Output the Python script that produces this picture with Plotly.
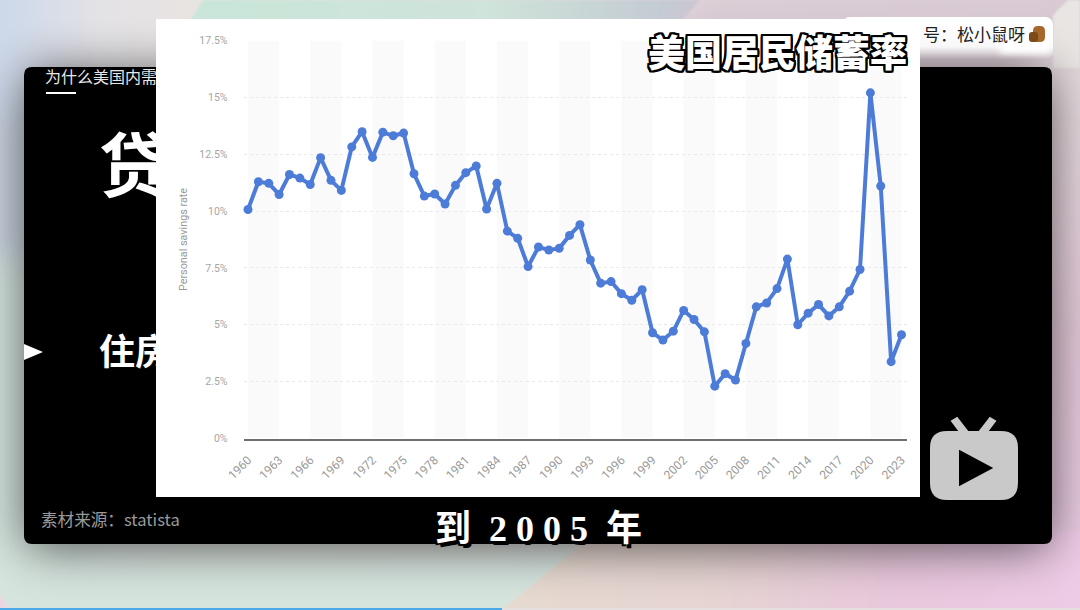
import base64
import plotly.graph_objects as go

W, H = 1080, 610

years = list(range(1960, 2024))
savings_rate = [
    10.07, 11.29, 11.22, 10.73, 11.61, 11.45, 11.17, 12.35, 11.35, 10.91,
    12.82, 13.49, 12.36, 13.47, 13.31, 13.43, 11.64, 10.66, 10.75, 10.31,
    11.13, 11.69, 11.98, 10.09, 11.22, 9.12, 8.80, 7.56, 8.42, 8.29,
    8.36, 8.93, 9.40, 7.85, 6.83, 6.90, 6.37, 6.08, 6.54, 4.65,
    4.33, 4.72, 5.63, 5.23, 4.69, 2.30, 2.85, 2.57, 4.18, 5.79,
    5.96, 6.59, 7.89, 5.00, 5.51, 5.89, 5.39, 5.79, 6.48, 7.43,
    15.20, 11.10, 3.38, 4.56,
]
y_ticks = [0, 2.5, 5, 7.5, 10, 12.5, 15, 17.5]
y_tick_labels = ["0%", "2.5%", "5%", "7.5%", "10%", "12.5%", "15%", "17.5%"]
x_ticks = list(range(1960, 2024, 3))
band_starts = list(range(1960, 2021, 6))

SANS = "Noto Sans CJK SC, Noto Sans, sans-serif"
TICK = "Roboto, Noto Sans, sans-serif"
BLUE = "#4d7cd8"


def px(x, y):
    return f"{x / W:.5f},{1 - y / H:.5f}"


def rr(x0, y0, x1, y1, r):
    return (
        f"M{px(x0 + r, y0)} L{px(x1 - r, y0)} Q{px(x1, y0)} {px(x1, y0 + r)} "
        f"L{px(x1, y1 - r)} Q{px(x1, y1)} {px(x1 - r, y1)} L{px(x0 + r, y1)} "
        f"Q{px(x0, y1)} {px(x0, y1 - r)} L{px(x0, y0 + r)} Q{px(x0, y0)} {px(x0 + r, y0)} Z"
    )


def poly(points):
    return "M" + " L".join(px(x, y) for x, y in points) + " Z"


def deco(path, fill, line=None, lw=0):
    return dict(type="path", xref="paper", yref="paper", path=path, fillcolor=fill,
                line=dict(color=line or fill, width=lw), layer="below")


backdrop = f'''<svg xmlns="http://www.w3.org/2000/svg" width="{W}" height="{H}" viewBox="0 0 {W} {H}">
<defs>
<filter id="b1" filterUnits="userSpaceOnUse" x="-100" y="-100" width="1280" height="810"><feGaussianBlur stdDeviation="24"/></filter>
<filter id="b2" filterUnits="userSpaceOnUse" x="-100" y="-100" width="1280" height="810"><feGaussianBlur stdDeviation="16"/></filter>
<filter id="b3" filterUnits="userSpaceOnUse" x="-100" y="-100" width="1280" height="810"><feGaussianBlur stdDeviation="3"/></filter>
<filter id="b4" filterUnits="userSpaceOnUse" x="-100" y="-100" width="1280" height="810"><feGaussianBlur stdDeviation="1.2"/></filter>
<linearGradient id="top" x1="0" x2="1" y1="0" y2="0">
<stop offset="0" stop-color="#cdd8ea"/><stop offset="0.09" stop-color="#e3e2e6"/>
<stop offset="0.19" stop-color="#e8e4e0"/><stop offset="1" stop-color="#dccbd4"/></linearGradient>
<linearGradient id="green" x1="0" x2="1" y1="0" y2="0">
<stop offset="0" stop-color="#c9e5d9"/><stop offset="0.6" stop-color="#cfe4da"/><stop offset="1" stop-color="#c2c6d2"/></linearGradient>
<linearGradient id="right" x1="0" x2="0" y1="0" y2="1">
<stop offset="0" stop-color="#e4dcde"/><stop offset="0.45" stop-color="#e2c8d8"/><stop offset="1" stop-color="#eccbe6"/></linearGradient>
<linearGradient id="bot" x1="0" x2="1" y1="0" y2="0">
<stop offset="0" stop-color="#e6dccf"/><stop offset="0.4" stop-color="#e6d4d2"/><stop offset="0.65" stop-color="#e8c8dc"/><stop offset="1" stop-color="#eecbe8"/></linearGradient>
<linearGradient id="card" x1="0" x2="0" y1="0" y2="1">
<stop offset="0" stop-color="#ffffff"/><stop offset="0.7" stop-color="#ffffff" stop-opacity="0.9"/><stop offset="1" stop-color="#ffffff" stop-opacity="0"/></linearGradient>
</defs>
<rect width="{W}" height="{H}" fill="url(#top)"/>
<polygon points="203,0 700,0 640,70 160,70" fill="url(#green)" filter="url(#b4)"/>
<polygon points="700,0 1080,0 1080,70 640,70" fill="#d6c8d2" filter="url(#b2)"/>
<g filter="url(#b2)">
<rect x="-40" y="240" width="130" height="420" fill="#d3e2dc"/>
<rect x="-40" y="110" width="80" height="150" fill="#c8d2de"/>
<rect x="-40" y="545" width="640" height="110" fill="#d6e4de"/>
<polygon points="1010,60 1130,60 1130,660 1010,660" fill="url(#right)"/>
</g>
<polygon points="600,530 1130,530 1130,660 440,660" fill="url(#bot)" filter="url(#b4)"/>
<polygon points="-5,588 14,615 -5,615" fill="#ead6e2" filter="url(#b4)"/>
<polygon points="1053,15 1068,0 1080,0 1080,68 1053,68" fill="#e8e5e3" filter="url(#b4)"/>
<rect x="26" y="72" width="1024" height="476" rx="10" fill="#000000" opacity="0.62" filter="url(#b1)"/>
<rect x="842" y="17" width="211" height="42" rx="8" fill="url(#card)"/>
<rect x="1000" y="36" width="50" height="17" fill="#ffffff" filter="url(#b3)"/>
</svg>'''
backdrop_uri = "data:image/svg+xml;base64," + base64.b64encode(backdrop.encode()).decode()

# chart plot-area placement (pixels)
X0, X1, Y0, Y1 = 243.5, 907.0, 40.5, 438.5
step = (901.5 - 248.0) / 63
x_range = [1960 - (248.0 - X0) / step, 2023 + (X1 - 901.5) / step]

fig = go.Figure()

# clipped lecture-slide text that continues behind the white card
fig.add_trace(go.Scatter(
    x=[45, 99, 99], y=[79, 174, 356], mode="text", xaxis="x", yaxis="y",
    text=["为什么美国内需", "贷", "住房"], textposition="middle right",
    textfont=dict(family=[SANS] * 3, size=[16, 70, 36], color=["#e6e6e6", "#ffffff", "#ffffff"],
                  weight=[400, 700, 700]),
    hoverinfo="skip", showlegend=False, cliponaxis=True))

# the data
fig.add_trace(go.Scatter(
    x=years, y=savings_rate, mode="lines+markers", xaxis="x2", yaxis="y2",
    line=dict(color=BLUE, width=4), marker=dict(color=BLUE, size=9),
    hoverinfo="x+y", showlegend=False, cliponaxis=False))

shapes = [
    deco(rr(24, 67, 1052, 544, 8), "#000000"),
    deco(poly([(156, 19), (920, 19), (920, 497), (156, 497)]), "#ffffff"),
    deco(poly([(46, 92), (76, 92), (76, 94), (46, 94)]), "#ffffff"),
    deco(poly([(24, 344), (43, 352), (24, 360)]), "#ffffff"),
    deco(poly([(0, 608), (502, 608), (502, 610), (0, 610)]), "#4ba9ea"),
    deco(poly([(502, 608), (1080, 608), (1080, 610), (502, 610)]), "#e6dfe0"),
    # video-player icon
    deco(rr(930, 431, 1018, 500, 17), "#c9c9c9"),
    deco(poly([(952, 421), (957, 418), (967, 431), (961, 433)]), "#c9c9c9", "#c9c9c9", 2),
    deco(poly([(990, 418), (995, 421), (986, 433), (980, 431)]), "#c9c9c9", "#c9c9c9", 2),
    deco(poly([(961, 453), (989, 468), (961, 483)]), "#000000", "#000000", 4),
    # squirrel mark next to the account name
    deco(rr(1033, 26, 1045, 42, 5), "#a5682a"),
    deco(rr(1029, 32, 1038, 42, 3), "#7a4a18"),
]
for s in band_starts:
    shapes.append(dict(type="rect", xref="x2", yref="y2", x0=s, x1=s + 3, y0=0, y1=17.5,
                       fillcolor="#fafafa", line=dict(width=0), layer="below"))

STROKE = ", ".join(f"{dx}px {dy}px 0 #000" for dx in (-2, -1, 0, 1, 2) for dy in (-2, -1, 0, 1, 2))
LOWER = "3px 4px 0 #000, -2px 2px 0 #000, 2px -1px 0 #000, -1px -1px 0 #000"

annotations = [
    dict(text="美国居民储蓄率", x=777 / W, y=1 - 51 / H, font=dict(family=SANS, size=37, color="#ffffff",
         weight=900, shadow=STROKE)),
    dict(text="号：松小鼠呀", x=974 / W, y=1 - 34 / H, font=dict(family=SANS, size=17, color="#222222")),
    dict(text="素材来源：statista", x=110 / W, y=1 - 519 / H, font=dict(family=SANS, size=16.6, color="#9a9a9a")),
    dict(text="到\u00a0 2 0 0 5 \u00a0年", x=538 / W, y=1 - 529 / H,
         font=dict(family="Liberation Serif, Noto Sans CJK SC, serif", size=36, color="#ffffff",
                   weight=700, shadow=LOWER)),
]
for a in annotations:
    a.update(xref="paper", yref="paper", showarrow=False, xanchor="center", yanchor="middle")

fig.update_layout(
    template="none",
    width=W, height=H, autosize=False,
    margin=dict(l=0, r=0, t=0, b=0, pad=0, autoexpand=False),
    paper_bgcolor="#e4e0e0", plot_bgcolor="rgba(0,0,0,0)",
    showlegend=False, shapes=shapes, annotations=annotations,
    images=[dict(source=backdrop_uri, xref="paper", yref="paper", x=0, y=1, sizex=1, sizey=1,
                 xanchor="left", yanchor="top", sizing="stretch", layer="below")],
    # pixel-scaled helper axes for the clipped slide text
    xaxis=dict(domain=[0, 156 / W], range=[0, 156], visible=False, fixedrange=True, automargin=False),
    yaxis=dict(domain=[0, 1], range=[H, 0], visible=False, fixedrange=True, automargin=False),
    xaxis2=dict(
        domain=[X0 / W, X1 / W], range=x_range, anchor="y2", automargin=False,
        tickmode="array", tickvals=x_ticks, ticktext=[str(v) for v in x_ticks],
        tickangle=-45, ticks="", showgrid=False, zeroline=False,
        showline=True, linecolor="#6f6f6f", linewidth=1.5,
        tickfont=dict(family=TICK, size=12, color="#9a9a9a"), ticklabelstandoff=8,
    ),
    yaxis2=dict(
        domain=[1 - Y1 / H, 1 - Y0 / H], range=[0, 17.5], anchor="x2", automargin=False,
        tickmode="array", tickvals=y_ticks, ticktext=y_tick_labels,
        ticks="", showgrid=True, gridcolor="#e9e9e9", griddash="dot", gridwidth=1,
        zeroline=False, showline=False,
        tickfont=dict(family=TICK, size=10.5, color="#a6a6a6"), ticklabelstandoff=15,
        title=dict(text="Personal savings rate", font=dict(family=TICK, size=10.8, color="#9a9a9a"), standoff=9),
    ),
)

fig.write_html(
    "out.html", config=dict(displayModeBar=False),
    post_script="document.documentElement.style.overflow='hidden';document.body.style.margin='0';",
)
